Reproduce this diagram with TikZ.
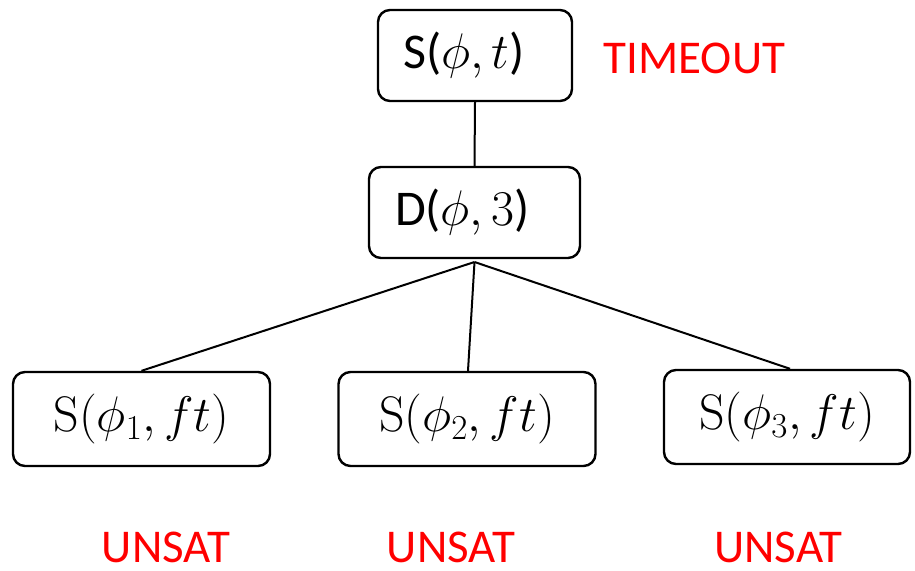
\documentclass[tikz,border=0pt]{standalone}
\usepackage{fix-cm}
\usepackage[no-math]{fontspec}
\setmainfont{Carlito}
\begin{document}
\begin{tikzpicture}[x=1pt,y=1pt,
  box/.style={draw=black, line width=2.4pt, rounded corners=12pt, inner sep=0pt, align=center},
  link/.style={draw=black, line width=2pt},
  verdict/.style={text=red, inner sep=0pt, font=\fontsize{47}{50}\selectfont},
  toptext/.style={font=\fontsize{50}{54}\selectfont},
  leaftext/.style={font=\fontsize{50}{54}\selectfont}]
\useasboundingbox (0,0) rectangle (915,-570);
\node[box, toptext, minimum width=194pt, minimum height=91pt] (root) at (475,-55.5)
  {S($\phi, t$)\hspace{22pt}};
\node[box, toptext, minimum width=211pt, minimum height=91pt] (split) at (474.5,-212.5)
  {D($\phi, 3$)\hspace{24pt}};
\node[box, leaftext, minimum width=257pt, minimum height=94pt] (leafA) at (141.5,-419)
  {$\mathrm{S}(\phi_1, ft)$};
\node[box, leaftext, minimum width=257pt, minimum height=94pt] (leafB) at (467,-419)
  {$\mathrm{S}(\phi_2, ft)$};
\node[box, leaftext, minimum width=246pt, minimum height=94pt] (leafC) at (787,-417)
  {$\mathrm{S}(\phi_3, ft)$};
\node[verdict] (timeout) at (694.5,-58) {TIMEOUT};
\node[verdict] (unsatA) at (166,-547) {UNSAT};
\node[verdict] (unsatB) at (451,-547) {UNSAT};
\node[verdict] (unsatC) at (778.5,-547) {UNSAT};
\draw[link] (root.south) -- (split.south |- split.north);
\coordinate (fork) at (474.5,-262);
\draw[link] (fork) -- (leafA.north);
\draw[link] (fork) -- ([xshift=1pt]leafB.north);
\draw[link] (fork) -- ([xshift=3pt]leafC.north);
\end{tikzpicture}
\end{document}
